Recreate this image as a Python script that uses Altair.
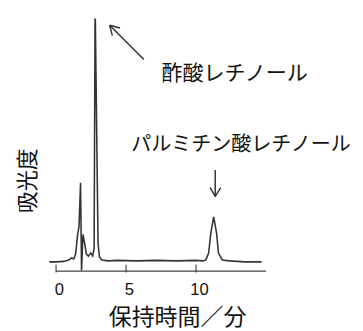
import altair as alt
import pandas as pd

# Chromatogram trace (retention time / min, absorbance, arbitrary units)
trace_t = [-0.49, 0.0, 0.55, 0.9, 1.12, 1.26, 1.4, 1.54, 1.64, 1.75, 1.82, 1.92, 2.03, 2.17, 2.31,
           2.48, 2.62, 2.72, 2.79, 3.0, 3.1, 3.28, 3.7, 4.4, 5.8, 7.2, 8.6, 10.0, 10.5, 10.7, 10.9,
           11.05, 11.26, 11.47, 11.6, 11.88, 12.4, 13.5, 14.68]
trace_a = [-1, -1, -0.5, 1, 3, 2, 7, 27, 35, 80, -10, 27, 19, 7, 5,
           8, 5, 13, 265, 18, 4, 1, 0, 0.5, 0, 0.5, 0, 0.5, 0, 1, 8,
           28, 45, 28, 8, 1, 0, -1, -1]

tick_values = [0, 5, 10]
x_title = "保持時間／分"
y_title = "吸光度"
label_acetate = "酢酸レチノール"
label_palmitate = "パルミチン酸レチノール"

FONT = "Noto Sans CJK JP"
LINE = "#333333"

xs = alt.Scale(domain=[-0.5, 15], nice=False, zero=False)
ys = alt.Scale(domain=[-10, 248], nice=False, zero=False)

x_axis = alt.Axis(values=tick_values, domain=False, ticks=False, tickSize=0, grid=False,
                  labelOverlap=False, labelFlush=False,
                  labelFontSize=17, labelFont="Liberation Sans", labelColor="#111",
                  labelPadding=11, labelOffset=3,
                  title=x_title, titleFont=FONT, titleFontSize=23.5,
                  titleFontWeight="normal", titleColor="#111",
                  titleX=131, titleY=48, titleBaseline="middle")

def X():
    return alt.X("t:Q", scale=xs, axis=x_axis)

def Y():
    return alt.Y("a:Q", scale=ys, axis=None)

df = pd.DataFrame({"t": trace_t, "a": trace_a})
trace = alt.Chart(df).mark_line(color=LINE, strokeWidth=1.6, clip=True).encode(x=X(), y=Y())

# axis line and ticks
axis_df = pd.DataFrame({"t": [0], "t2": [15], "a": [-10.5]})
axis_line = alt.Chart(axis_df).mark_rule(color="#444", strokeWidth=1.2).encode(
    x=X(), x2="t2:Q", y=Y())
ticks_df = pd.DataFrame({"t": tick_values, "a": [-4] * 3, "a2": [-12] * 3})
ticks = alt.Chart(ticks_df).mark_rule(color="#444", strokeWidth=1.2).encode(
    x=X(), y=Y(), y2="a2:Q")

# arrows (annotation positions in data units)
arr_df = pd.DataFrame({
    "t": [6.27, 3.83, 3.83, 11.37, 11.37, 11.37],
    "a": [206, 241, 241, 93, 66, 66],
    "t2": [3.83, 4.02, 4.57, 11.37, 11.0, 11.76],
    "a2": [241, 230.4, 238.2, 66, 75, 75],
})
arrows = alt.Chart(arr_df).mark_rule(color="#333", strokeWidth=1.5).encode(
    x=X(), y=Y(), x2="t2:Q", y2="a2:Q")

txt_df = pd.DataFrame({"t": [7.53, 5.37], "a": [191, 118], "label": [label_acetate, label_palmitate],
                       "size": [21.5, 20.5]})
texts = alt.Chart(txt_df).mark_text(font=FONT, align="left", baseline="middle",
                                    color="#111").encode(
    x=X(), y=Y(), text="label:N", size=alt.Size("size:Q", scale=None, legend=None))

ytitle_df = pd.DataFrame({"t": [-1.97], "a": [82], "label": [y_title]})
ytitle = alt.Chart(ytitle_df).mark_text(font=FONT, fontSize=22, angle=270, align="center",
                                        baseline="middle", color="#111").encode(
    x=X(), y=Y(), text="label:N")

chart = alt.layer(trace, axis_line, ticks, arrows, texts, ytitle).properties(
    width=222, height=258,
    padding={"left": 42, "top": 7, "right": 91, "bottom": 58},
    autosize=alt.AutoSizeParams(type="none"),
    background="white",
).configure_view(stroke=None)

chart.save("out.html", embed_options={"renderer": "svg", "actions": False})
